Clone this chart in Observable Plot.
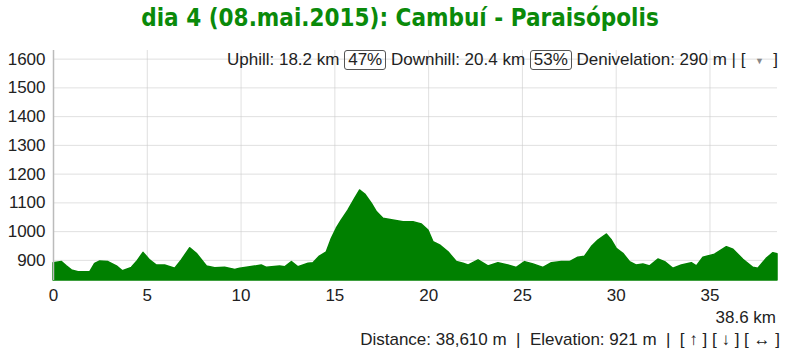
<!DOCTYPE html>
<html>
<head>
<meta charset="utf-8">
<script src="https://cdn.jsdelivr.net/npm/d3@7"></script>
<script src="https://cdn.jsdelivr.net/npm/@observablehq/plot@0.6"></script>
<style>
  html, body { margin: 0; padding: 0; background: #fff; }
  #wrap { position: relative; width: 800px; height: 357px; overflow: hidden; font-family: "Liberation Sans", Arial, sans-serif; }
  #title { position: absolute; left: 0; top: 4px; width: 800px; text-align: center; font-family: "DejaVu Sans Condensed", "DejaVu Sans", sans-serif; font-stretch: condensed; font-weight: bold; font-size: 24px; color: #0a8a0a; }
  #chart { position: absolute; left: 0; top: 40px; }
  #stats { position: absolute; left: 227px; top: 50px; font-size: 17px; line-height: 20px; color: #222; white-space: nowrap; }
  #stats .box { display: inline-block; border: 1px solid #555; border-radius: 3px; padding: 0 3px; line-height: 18px; }
  #total { position: absolute; right: 24px; top: 308px; font-size: 17px; color: #222; }
  #info { position: absolute; right: 20px; top: 330px; font-size: 17px; color: #222; white-space: nowrap; }
</style>
</head>
<body>
<div id="wrap">
  <div id="title">dia 4 (08.mai.2015): Cambuí - Paraisópolis</div>
  <div id="chart"></div>
  <div id="stats">Uphill: 18.2 km <span class="box">47%</span> Downhill: 20.4 km <span class="box">53%</span> Denivelation: 290 m | [ &nbsp;<span style="font-size:9px;color:#888;vertical-align:middle">▼</span>&nbsp; ]</div>
  <div id="total">38.6 km</div>
  <div id="info">Distance: 38,610 m &nbsp;|&nbsp; Elevation: 921 m &nbsp;|&nbsp; [ ↑ ] [ ↓ ] [ ↔ ]</div>
</div>
<script>
const distanceKm = [0, 0.45, 0.71, 0.98, 1.33, 1.96, 2.22, 2.49, 2.93, 3.38, 3.7, 4.18, 4.45, 4.8, 5.15, 5.51, 5.95, 6.49, 6.84, 7.29, 7.64, 8.18, 8.62, 9.15, 9.69, 9.95, 10.49, 11.1, 11.38, 12.08, 12.35, 12.71, 13.06, 13.6, 13.86, 14.2, 14.57, 14.84, 15.1, 15.37, 15.72, 16.08, 16.35, 16.62, 16.97, 17.24, 17.59, 18.12, 18.66, 19.19, 19.64, 19.99, 20.26, 20.61, 21.06, 21.5, 21.86, 22.12, 22.66, 23.19, 23.72, 24.25, 24.7, 25.14, 25.59, 26.12, 26.57, 27.1, 27.54, 27.98, 28.34, 28.7, 29.05, 29.5, 29.77, 30.03, 30.38, 30.74, 31.1, 31.45, 31.81, 32.25, 32.61, 33.05, 33.5, 34.03, 34.3, 34.65, 35.27, 35.9, 36.25, 36.78, 37.31, 37.58, 38.02, 38.38, 38.6];
const elevationM = [890, 894, 879, 865, 859, 859, 888, 896, 894, 879, 862, 874, 894, 926, 900, 882, 882, 871, 900, 942, 923, 879, 873, 874, 867, 871, 876, 882, 874, 879, 876, 894, 876, 888, 890, 913, 928, 975, 1010, 1039, 1073, 1114, 1143, 1129, 1097, 1068, 1045, 1039, 1033, 1033, 1025, 1004, 963, 952, 928, 894, 888, 882, 900, 879, 890, 882, 874, 894, 886, 874, 890, 894, 894, 909, 913, 946, 969, 990, 969, 940, 923, 894, 882, 886, 879, 903, 894, 871, 882, 890, 879, 909, 920, 946, 937, 902, 874, 871, 905, 925, 921];
const xTicks = [0, 5, 10, 15, 20, 25, 30, 35];
const yTicks = [900, 1000, 1100, 1200, 1300, 1400, 1500, 1600];

const data = distanceKm.map((d, i) => ({d, e: elevationM[i]}));

const chart = Plot.plot({
  width: 800,
  height: 317,
  marginLeft: 53,
  marginRight: 23,
  marginTop: 10,
  marginBottom: 77,
  style: {fontFamily: "'Liberation Sans', Arial, sans-serif", fontSize: "17px", color: "#222", background: "transparent"},
  x: {domain: [0, 38.6]},
  y: {domain: [830, 1630]},
  marks: [
    Plot.gridX(xTicks, {stroke: "#ccc", strokeOpacity: 0.6}),
    Plot.gridY(yTicks, {stroke: "#ccc", strokeOpacity: 0.6}),
    Plot.areaY(data, {x: "d", y1: 830, y2: "e", fill: "#008000", stroke: "#008000", strokeWidth: 1.5}),
    Plot.ruleX([0], {stroke: "#bbb", strokeWidth: 1.5}),
    Plot.axisX(xTicks, {tickSize: 0, tickPadding: 8, fontSize: 17, label: null, tickFormat: d => String(d)}),
    Plot.axisY(yTicks, {tickSize: 0, tickPadding: 8, fontSize: 17, label: null, tickFormat: d => String(d)})
  ]
});
document.getElementById("chart").appendChild(chart);
</script>
</body>
</html>
